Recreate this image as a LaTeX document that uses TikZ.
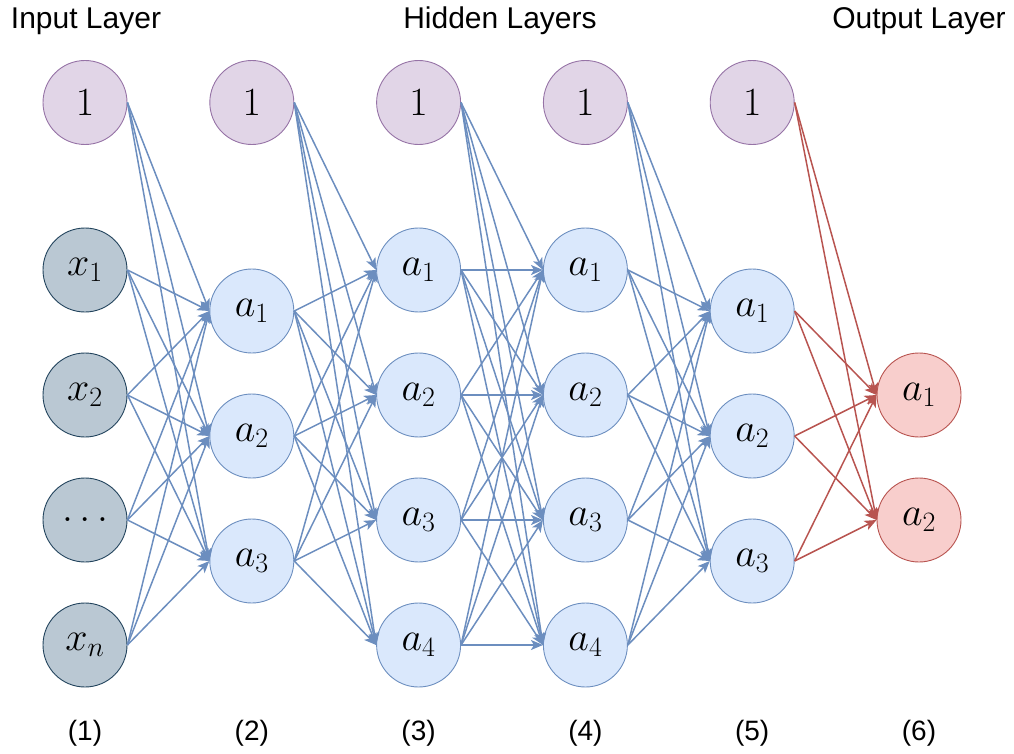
\RequirePackage{fix-cm}
\documentclass[tikz,border=0pt]{standalone}
\usepackage{fontspec}
\setsansfont{Liberation Sans}
\usetikzlibrary{arrows.meta}

\definecolor{biasfill}{HTML}{E1D5E7}
\definecolor{biasline}{HTML}{9673A6}
\definecolor{infill}{HTML}{BAC8D3}
\definecolor{inline}{HTML}{23445D}
\definecolor{hidfill}{HTML}{DAE8FC}
\definecolor{hidline}{HTML}{6C8EBF}
\definecolor{outfill}{HTML}{F8CECC}
\definecolor{outline}{HTML}{B85450}

\begin{document}
\begin{tikzpicture}[x=1pt,y=-1pt,
  neuron/.style={circle, minimum size=84pt, inner sep=0pt, line width=0.9pt,
    font=\fontsize{40}{46}\selectfont},
  biasnode/.style={neuron, fill=biasfill, draw=biasline},
  innode/.style={neuron, fill=infill, draw=inline},
  hidnode/.style={neuron, fill=hidfill, draw=hidline},
  outnode/.style={neuron, fill=outfill, draw=outline},
  link/.style={draw=hidline, line width=1.5pt,
    -{Stealth[length=12pt,width=10pt,inset=3pt]}},
  redlink/.style={link, draw=outline},
  title/.style={font=\sffamily\fontsize{30}{35}\selectfont, anchor=base},
  layerno/.style={font=\sffamily\fontsize{28}{33}\selectfont, anchor=base},
]
\useasboundingbox (0,0) rectangle (1014,754);

% layer headings
\node[title] (tin)  at (86,29)  {Input Layer};
\node[title] (thid) at (500,29) {Hidden Layers};
\node[title] (tout) at (919,29) {Output Layer};

% bias units
\foreach \i/\x in {1/85, 2/251.8, 3/418.6, 4/585.4, 5/752.2}
  \node[biasnode] (b\i) at (\x,102.5) {$1$};

% input layer
\node[innode] (n1-1) at (85,270) {$x_1$};
\node[innode] (n1-2) at (85,395) {$x_2$};
\node[innode] (n1-3) at (85,520) {$\ldots$};
\node[innode] (n1-4) at (85,645) {$x_n$};

% hidden layers
\foreach \k/\y in {1/311, 2/436, 3/561} {
  \node[hidnode] (n2-\k) at (251.8,\y) {$a_{\k}$};
  \node[hidnode] (n5-\k) at (752.2,\y) {$a_{\k}$};
}
\foreach \k/\y in {1/270, 2/395, 3/520, 4/645} {
  \node[hidnode] (n3-\k) at (418.6,\y) {$a_{\k}$};
  \node[hidnode] (n4-\k) at (585.4,\y) {$a_{\k}$};
}

% output layer
\node[outnode] (n6-1) at (919,395) {$a_1$};
\node[outnode] (n6-2) at (919,520) {$a_2$};

% fully connected weights between consecutive layers
\foreach \i/\j/\m/\n in {1/2/4/3, 2/3/3/4, 3/4/4/4, 4/5/4/3} {
  \foreach \k in {1,...,\n} {
    \draw[link] (b\i.east) -- (n\j-\k.west);
    \foreach \s in {1,...,\m}
      \draw[link] (n\i-\s.east) -- (n\j-\k.west);
  }
}
\foreach \k in {1,2} {
  \draw[redlink] (b5.east) -- (n6-\k.west);
  \foreach \s in {1,2,3}
    \draw[redlink] (n5-\s.east) -- (n6-\k.west);
}

% layer numbers
\foreach \i/\x in {1/85, 2/251.8, 3/418.6, 4/585.4, 5/752.2, 6/919}
  \node[layerno] (num\i) at (\x,740) {(\i)};
\end{tikzpicture}
\end{document}
